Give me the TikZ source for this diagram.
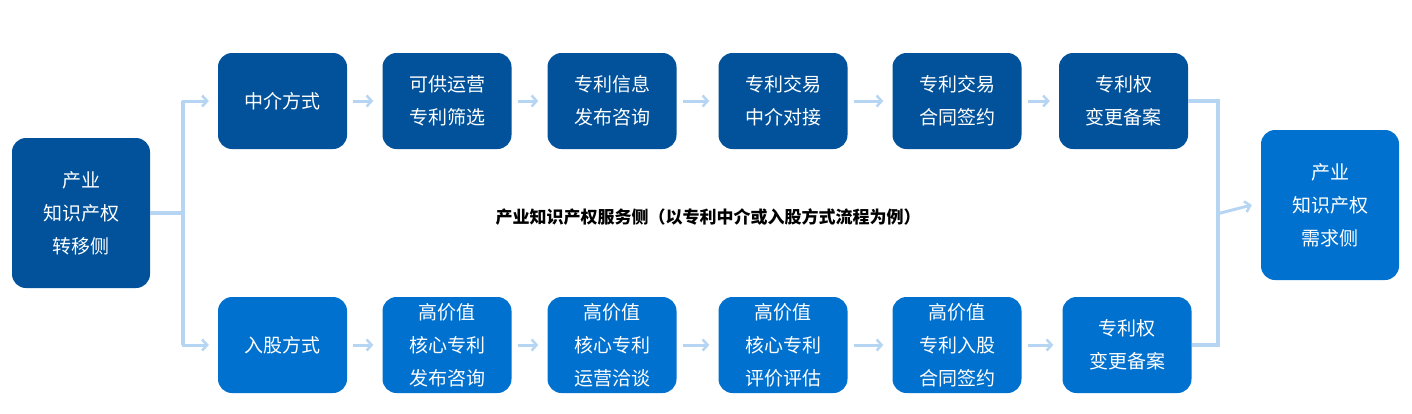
\documentclass[tikz,border=0pt]{standalone}
\usepackage{fontspec}
\setmainfont{Noto Sans CJK SC}
\usetikzlibrary{positioning, arrows.meta, calc}
\definecolor{darkblue}{HTML}{01529A}
\definecolor{brightblue}{HTML}{0171CF}
\definecolor{linkblue}{HTML}{B6D5F3}
\tikzset{
    box/.style={rounded corners=14pt, text=white, align=center, minimum width=129pt,
        minimum height=96pt, inner sep=0pt, font=\fontsize{19}{33}\selectfont},
    dbox/.style={box, fill=darkblue},
    bbox/.style={box, fill=brightblue},
    link/.style={linkblue, line width=3pt, -{Straight Barb[length=5pt,width=11pt,line width=2.5pt]}},
    trunk/.style={linkblue, line width=4pt}
}
\begin{document}
\begin{tikzpicture}[x=1pt, y=-1pt]
        \useasboundingbox (0,0) rectangle (1412,413);

        \node[dbox, minimum width=138pt, minimum height=150pt] (src) at (81,213) {产业\\知识产权\\转移侧};
        \node[bbox, minimum width=138pt, minimum height=150pt] (dst) at (1330,205) {产业\\知识产权\\需求侧};

        % upper row
        \node[dbox] (u1) at (282.5,101) {中介方式};
        \node[dbox] (u2) at (447,101) {可供运营\\专利筛选};
        \node[dbox] (u3) at (612,101) {专利信息\\发布咨询};
        \node[dbox] (u4) at (783,101) {专利交易\\中介对接};
        \node[dbox] (u5) at (957,101) {专利交易\\合同签约};
        \node[dbox] (u6) at (1123.5,101) {专利权\\变更备案};

        % lower row
        \node[bbox] (l1) at (282.5,345) {入股方式};
        \node[bbox] (l2) at (447,345) {高价值\\核心专利\\发布咨询};
        \node[bbox] (l3) at (612,345) {高价值\\核心专利\\运营洽谈};
        \node[bbox] (l4) at (783,345) {高价值\\核心专利\\评价评估};
        \node[bbox] (l5) at (957,345) {高价值\\专利入股\\合同签约};
        \node[bbox] (l6) at (1127,345) {专利权\\变更备案};

        \node[font=\bfseries\fontsize{17}{20}\selectfont] (title) at (708,217) {产业知识产权服务侧（以专利中介或入股方式流程为例）};

        \coordinate (split) at (183,213);
        \coordinate (join) at (1218,214);

        % fork from source
        \draw[trunk] (src.east) -- (split);
        \draw[trunk] (split |- u1) -- (split |- l1);
        \draw[link] ([xshift=-1.5pt]split |- u1) -- ([xshift=-9pt]u1.west);
        \draw[link] ([xshift=-1.5pt]split |- l1) -- ([xshift=-9pt]l1.west);

        % chains
        \foreach \a/\b in {u1/u2,u2/u3,u3/u4,u4/u5,u5/u6,l1/l2,l2/l3,l3/l4,l4/l5,l5/l6}
        {
            \draw[link] ([xshift=6pt]\a.east) -- ([xshift=-9pt]\b.west);
        }

        % merge to target
        \draw[trunk] (u6.east) -| (join);
        \draw[trunk] (l6.east) -| (join);
        \draw[link] ([xshift=-1.5pt]join) -- ([xshift=-9pt]dst.west);
    \end{tikzpicture}
\end{document}
